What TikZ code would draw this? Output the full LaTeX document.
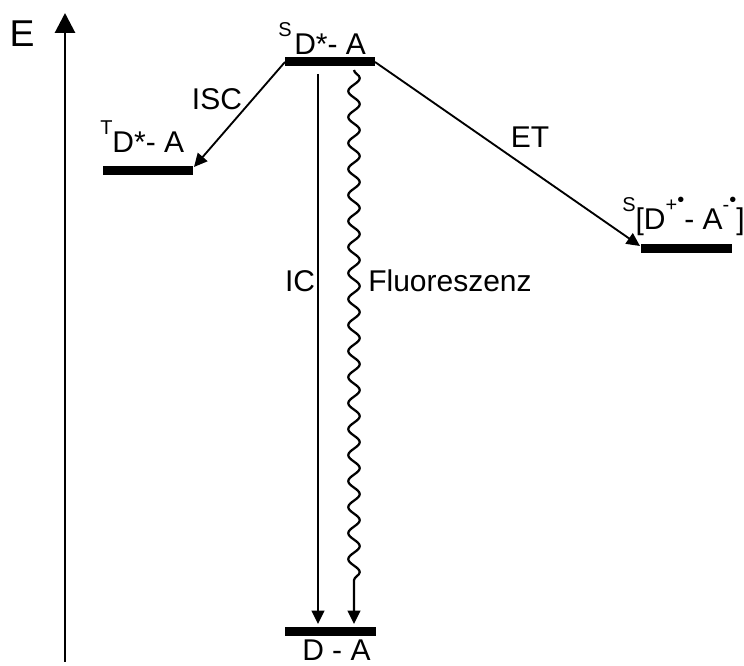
\documentclass[tikz,border=0pt]{standalone}
\usepackage{fontspec}
\setmainfont{Liberation Sans}
\usetikzlibrary{arrows.meta,decorations.pathmorphing,positioning}
\tikzset{level/.style={line width=6.75pt},
  arr/.style={-{Triangle[length=10pt,width=9.5pt]},line width=1.4pt},
  lab/.style={font=\fontsize{22.5}{26}\selectfont,inner sep=0pt}}
\newcommand{\hoch}[1]{\raisebox{0.6em}{\fontsize{15}{15}\selectfont #1}}
\newcommand{\rad}{\raisebox{0.25em}{\textbullet}}

\begin{document}
\begin{tikzpicture}[x=0.75pt,y=-0.75pt]
\useasboundingbox (0,0) rectangle (744,666);
% Energieachse
\coordinate (E0) at (65,662);
\coordinate (E1) at (65,13);
\draw[line width=2.2pt,-{Triangle[length=15pt,width=15pt]}] (E0) -- (E1);
\node[lab,font=\fontsize{28}{32}\selectfont] (E) at (22,34) {E};
% Niveaus
\foreach \n/\xa/\xb/\y in {S/285/375/62,T/103/193/171,CT/641/732/249,G/285/376/632}{
  \coordinate (\n-l) at (\xa,\y);
  \coordinate (\n-r) at (\xb,\y);
  \draw[level] (\n-l) -- (\n-r);
}
\node[lab,anchor=base west] (Slab) at (278,55) {\hoch{S}\hspace{2pt}D*- A};
\node[lab,anchor=base west] (Tlab) at (100,153) {\hoch{T}D*- A};
\node[lab,anchor=base west] (CTlab) at (622,230) {\hoch{S}[D\hoch{+\rad}- A\hoch{-\rad}]};
\node[lab,anchor=base west] (Glab) at (302,661) {D - A};
% Uebergaenge
\coordinate (isc) at (194,167);
\coordinate (et) at (640,246);
\coordinate (ic0) at (318,74);
\coordinate (ic1) at (318,624);
\coordinate (fl0) at (354,70);
\coordinate (fl1) at (354,624);
\draw[arr] (S-l) -- (isc);
\draw[arr] (S-r) -- (et);
\draw[arr] (ic0) -- (ic1);
\draw[arr,line width=1.7pt,decorate,decoration={snake,segment length=19.5pt,amplitude=4.3pt,post length=25.5pt}] (fl0) -- (fl1);
\node[lab] (isclab) at (217,99) {ISC};
\node[lab] (etlab) at (530,137) {ET};
\node[lab] (iclab) at (300,281) {IC};
\node[lab,anchor=west] (fllab) at (368,281) {Fluoreszenz};
\end{tikzpicture}
\end{document}
